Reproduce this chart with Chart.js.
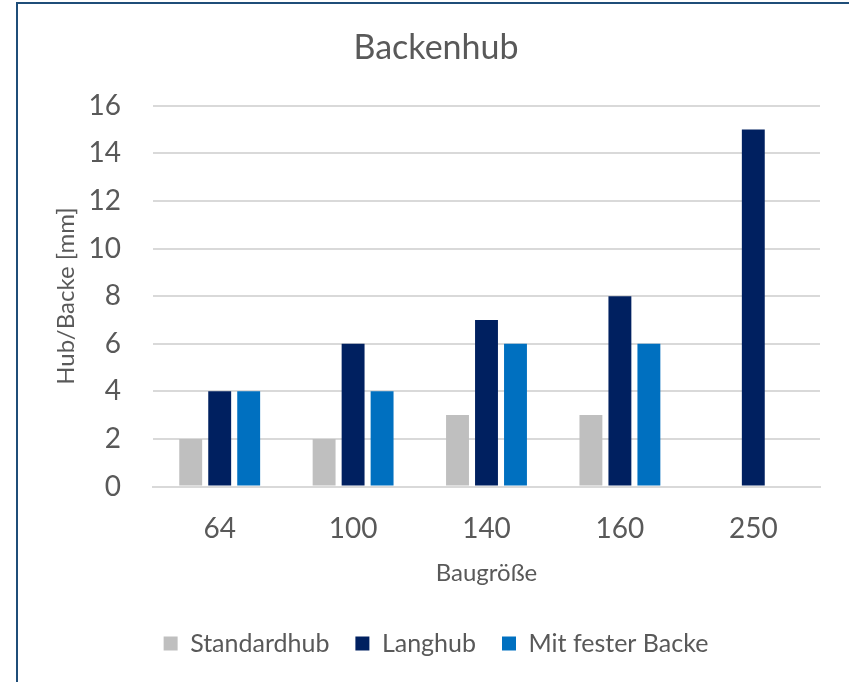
<!DOCTYPE html>
<html>
<head>
<meta charset="utf-8">
<script src="https://cdn.jsdelivr.net/npm/chart.js@4.4.1/dist/chart.umd.min.js"></script>
<style>
  html, body { margin: 0; padding: 0; background: #ffffff; }
  #wrap { position: relative; width: 849px; height: 682px; overflow: hidden; }
  #frame { position: absolute; left: 16px; top: 2px; width: 840px; height: 700px;
           border: 2px solid #1F4E79; box-sizing: border-box; pointer-events: none; }
  canvas { position: absolute; left: 0; top: 0; }
</style>
</head>
<body>
<div id="wrap">
  <canvas id="c" width="849" height="682"></canvas>
  <div id="frame"></div>
</div>
<script>
// Baugrößen und Hubwerte je Backe
const categories = ['64', '100', '140', '160', '250'];
const standardhub = [2, 2, 3, 3, null];
const langhub = [4, 6, 7, 8, 15];
const mitFesterBacke = [4, 4, 6, 6, null];
const yTicks = [0, 2, 4, 6, 8, 10, 12, 14, 16];

const FONT = 'Lato, "Open Sans", sans-serif';
const TEXT = '#595959';
const GRID = '#D9D9D9';
const PAD_LEFT = 30;

new Chart(document.getElementById('c'), {
  type: 'bar',
  data: {
    labels: categories,
    datasets: [
      { label: 'Standardhub', data: standardhub, backgroundColor: '#BFBFBF' },
      { label: 'Langhub', data: langhub, backgroundColor: '#002060' },
      { label: 'Mit fester Backe', data: mitFesterBacke, backgroundColor: '#0070C0' }
    ]
  },
  options: {
    responsive: false,
    animation: false,
    devicePixelRatio: 1,
    categoryPercentage: 0.652,
    barPercentage: 0.79,
    layout: { padding: { left: PAD_LEFT, right: 7, top: 20, bottom: 16 } },
    plugins: {
      title: {
        display: true, text: 'Backenhub', color: TEXT,
        font: { family: FONT, size: 34, weight: 'normal' },
        padding: { top: 8, bottom: 37 }
      },
      legend: {
        position: 'bottom',
        labels: {
          color: TEXT, boxWidth: 14, boxHeight: 14, padding: 26,
          font: { family: FONT, size: 25 }
        }
      },
      tooltip: { enabled: false }
    },
    scales: {
      x: {
        afterFit: (axis) => { axis.height = 118.5; },
        grid: { display: false, drawTicks: false },
        border: { display: true, color: GRID, width: 2 },
        ticks: { color: TEXT, padding: 26, font: { family: FONT, size: 28 } },
        title: {
          display: true, text: 'Baugröße', color: TEXT,
          font: { family: FONT, size: 24 }, padding: { top: 0, bottom: 17 }
        }
      },
      y: {
        min: 0, max: 16,
        afterBuildTicks: (axis) => { axis.ticks = yTicks.map(v => ({ value: v })); },
        afterFit: (axis) => { axis.width = 153 - PAD_LEFT; },
        grid: { color: GRID, lineWidth: 2, drawTicks: false },
        border: { display: false },
        ticks: { color: TEXT, padding: 32, font: { family: FONT, size: 28 } },
        title: {
          display: true, text: 'Hub/Backe [mm]', color: TEXT,
          font: { family: FONT, size: 24 }, padding: { top: 22, bottom: 10 }
        }
      },
      // empty spacer on the right so the plot ends where the frame margin begins
      yRight: {
        position: 'right',
        afterFit: (axis) => { axis.width = 22; },
        grid: { display: false, drawTicks: false },
        border: { display: false },
        ticks: { display: false }
      }
    }
  }
});
</script>
</body>
</html>
